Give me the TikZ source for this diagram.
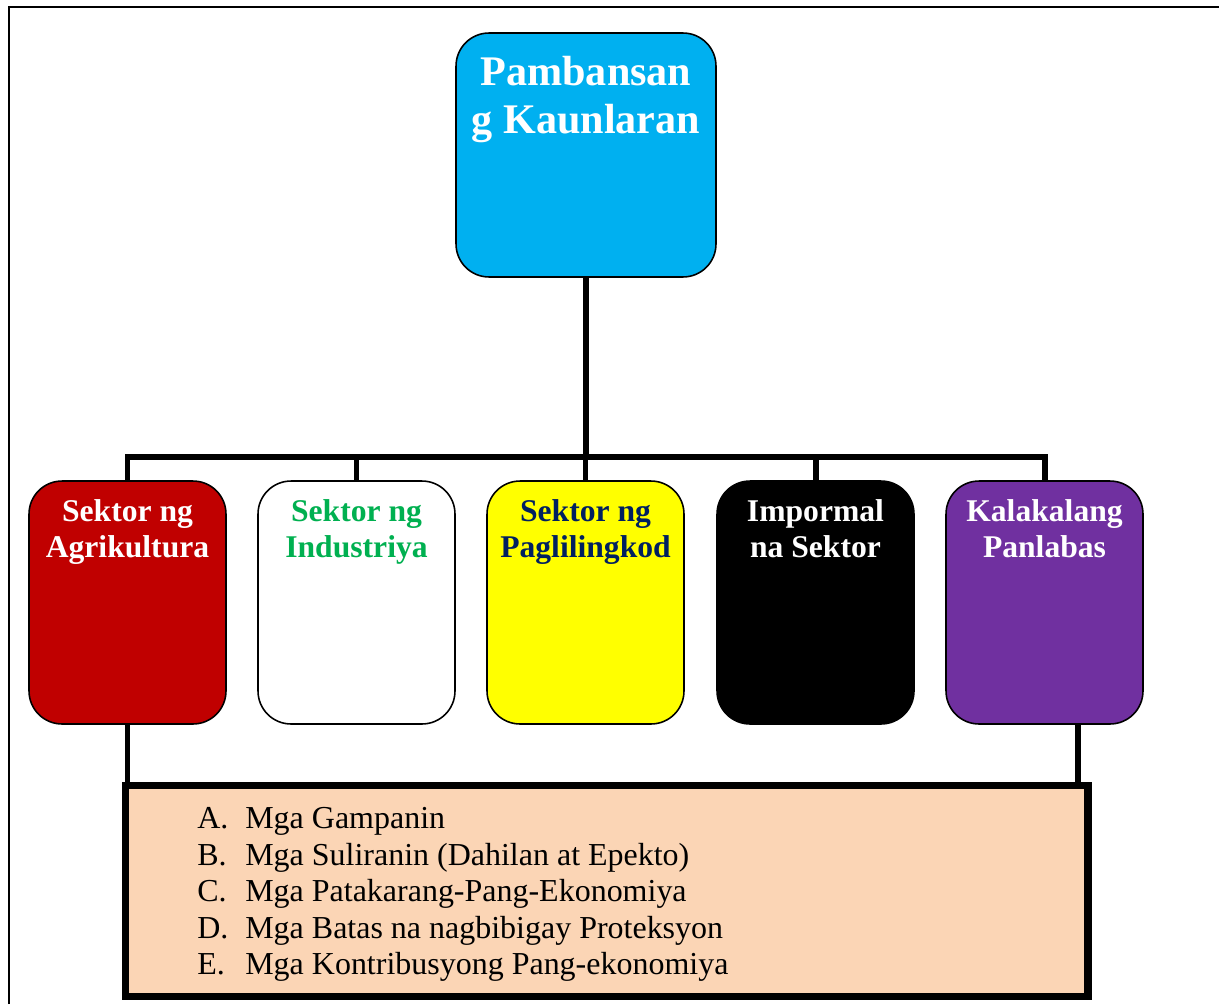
\documentclass[tikz,border=0pt]{standalone}
\usepackage{fontspec}
\setmainfont{Liberation Serif}
\definecolor{cyanb}{HTML}{00B0F0}
\definecolor{redb}{HTML}{C00000}
\definecolor{greent}{HTML}{00B050}
\definecolor{navyt}{HTML}{002060}
\definecolor{yellowb}{HTML}{FFFF00}
\definecolor{purpleb}{HTML}{7030A0}
\definecolor{peach}{HTML}{FBD5B5}
\begin{document}
\begin{tikzpicture}[x=0.02cm,y=-0.02cm,
  rbox/.style={draw=black,line width=0.9pt,rounded corners=0.66cm,minimum width=3.94cm,minimum height=4.86cm,inner sep=0pt},
  toptext/.style={anchor=north,align=center,inner sep=0pt,text=white,font=\fontsize{24}{27.3}\selectfont\bfseries},
  rowtext/.style={anchor=north,align=center,inner sep=0pt,font=\fontsize{18}{20.5}\selectfont\bfseries},
  conn/.style={line width=3.4pt,line join=miter},
  frame/.style={line width=1.7pt}]
\useasboundingbox (0,0) rectangle (1219,1004);
% outer frame
\draw[frame] (9,1004) -- (9,7) -- (1219,7);
% top box
\node[rbox,fill=cyanb,minimum width=5.2cm,minimum height=4.88cm] (top) at (586,155) {};
\node[toptext] (toptxt) at (586,56) {Pambansan\\g Kaunlaran};
% row boxes
\node[rbox,fill=redb] (b1) at (127.5,602.5) {};
\node[rbox,fill=white] (b2) at (356.5,602.5) {};
\node[rbox,fill=yellowb] (b3) at (585.5,602.5) {};
\node[rbox,fill=black] (b4) at (815.5,602.5) {};
\node[rbox,fill=purpleb] (b5) at (1044.5,602.5) {};
\node[rowtext,text=white] (t1) at (127.5,499) {Sektor ng\\Agrikultura};
\node[rowtext,text=greent] (t2) at (356.5,499) {Sektor ng\\Industriya};
\node[rowtext,text=navyt] (t3) at (585.5,499) {Sektor ng\\Paglilingkod};
\node[rowtext,text=white] (t4) at (815.5,499) {Impormal\\na Sektor};
\node[rowtext,text=white] (t5) at (1044.5,499) {Kalakalang\\Panlabas};
% bottom list box
\node[draw=black,fill=peach,line width=4.3pt,minimum width=19.25cm,minimum height=4.22cm,inner sep=0pt] (list) at (606.75,891) {};
\node[anchor=north west,align=left,inner sep=0pt,font=\fontsize{18.2}{20.8}\selectfont] (items) at (197,807) {%
\makebox[0.96cm][l]{A.}Mga Gampanin\\
\makebox[0.96cm][l]{B.}Mga Suliranin (Dahilan at Epekto)\\
\makebox[0.96cm][l]{C.}Mga Patakarang-Pang-Ekonomiya\\
\makebox[0.96cm][l]{D.}Mga Batas na nagbibigay Proteksyon\\
\makebox[0.96cm][l]{E.}Mga Kontribusyong Pang-ekonomiya};
% connectors
\coordinate (busy) at (0,457);
\draw[conn] (b1.north) -- (b1.north |- busy) -- (b5.north |- busy) -- (b5.north);
\draw[conn] (top.south) -- (top.south |- busy);
\draw[conn] (b2.north) -- (b2.north |- busy);
\draw[conn] (b3.north) -- (b3.north |- busy);
\draw[conn] (b4.north) -- (b4.north |- busy);
\coordinate (rt) at ([xshift=0.67cm]b5.south);
\draw[conn] (b1.south) -- (b1.south |- list.north);
\draw[conn] (rt) -- (rt |- list.north);
\end{tikzpicture}
\end{document}
